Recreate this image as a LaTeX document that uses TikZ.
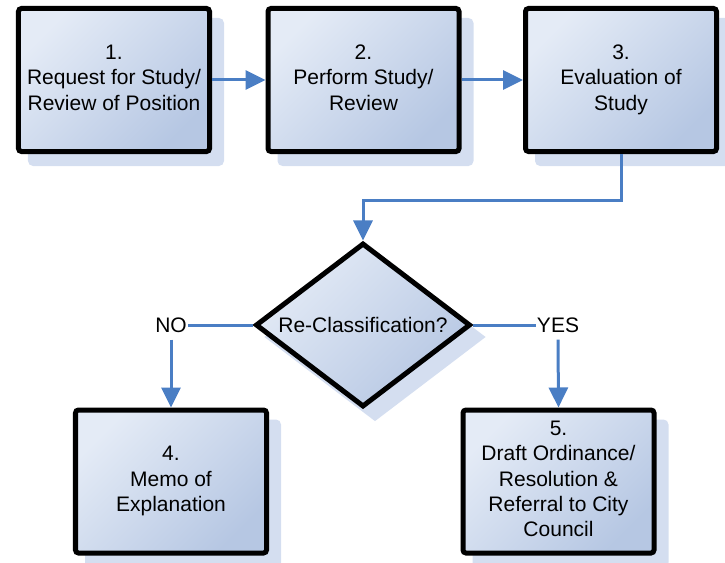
\documentclass[tikz,border=0pt]{standalone}
\usepackage{fontspec}
\setmainfont{Liberation Sans}
\usetikzlibrary{shapes.geometric,arrows.meta,shadows}
\definecolor{arrowblue}{RGB}{74,126,196}
\definecolor{fillA}{RGB}{228,235,246}
\definecolor{fillB}{RGB}{182,199,227}
\definecolor{shadowcol}{RGB}{212,222,240}
\begin{document}
\begin{tikzpicture}[x=1bp,y=-1bp,
  boxshade/.style={top color=fillA, bottom color=fillB, shading angle=45},
  boxshadow/.style={drop shadow={shadow xshift=12bp, shadow yshift=-12bp, fill=shadowcol, draw=shadowcol, line width=5bp, opacity=1}},
  boxfont/.style={font=\fontsize{21bp}{25.3bp}\selectfont},
  stepbox/.style={rectangle, draw=black, line width=5bp, rounded corners=3bp,
    minimum width=191bp, minimum height=143bp, inner sep=0pt, boxshade, boxshadow,
    align=center, boxfont, execute at begin node={\rule{0pt}{16.5bp}},
    execute at end node={\rule[-5bp]{0pt}{5bp}}},
  decision/.style={diamond, draw=black, line width=5bp, aspect=1.31, minimum width=215bp,
    minimum height=164bp, inner sep=0pt, boxshade, boxshadow, boxfont},
  lbl/.style={inner xsep=1bp, inner ysep=7bp, boxfont},
  conn/.style={draw=arrowblue, line width=3bp},
  arr/.style={conn, -{Triangle[length=20bp,width=19bp]}}
]
\useasboundingbox (0,0) rectangle (725,563);
\node[stepbox] (b1) at (114,80) {1.\\Request for Study/\\Review of Position};
\node[stepbox] (b2) at (363.5,80) {2.\\Perform Study/\\Review};
\node[stepbox] (b3) at (621,80) {3.\\Evaluation of\\Study};
\node[decision] (d) at (363,325) {Re-Classification?};
\node[stepbox] (b4) at (171,481.5) {4.\\Memo of\\Explanation};
\node[stepbox] (b5) at (558.5,481.5) {5.\\Draft Ordinance/\\Resolution \&\\Referral to City\\Council};
\node[lbl] (no) at (171,325) {NO};
\node[lbl] (yes) at (558,325) {YES};
\draw[arr] (b1.east) -- (b2.west);
\draw[arr] (b2.east) -- (b3.west);
\draw[arr] (b3.south) -- ++(0,46) -| (d.north);
\draw[conn] (d.west) -- (no.east);
\draw[conn] (d.east) -- (yes.west);
\draw[arr] (no.south) -- (b4.north);
\draw[arr] (yes.south) -- (b5.north);
\end{tikzpicture}
\end{document}
